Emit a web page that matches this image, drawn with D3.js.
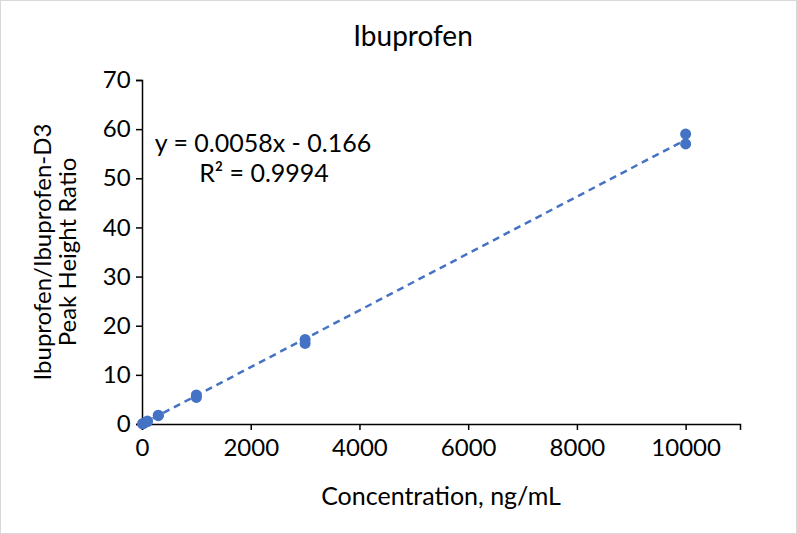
<!DOCTYPE html>
<html><head><meta charset="utf-8">
<script src="https://cdn.jsdelivr.net/npm/d3@7"></script>
<style>body{margin:0;background:#fff}text{font-family:Lato,"Liberation Sans",sans-serif}</style>
</head><body><svg id="c" width="797" height="534"></svg>
<script>
const xConc = [10, 30, 100, 100, 300, 300, 1000, 1000, 3000, 3000, 10000, 10000];
const yRatio = [0.05, 0.15, 0.5, 0.6, 1.7, 1.8, 5.4, 5.9, 16.4, 17.2, 57.0, 59.0];
const xTicks = [0, 2000, 4000, 6000, 8000, 10000];
const yTicks = [0, 10, 20, 30, 40, 50, 60, 70];
const slope = 0.0058, intercept = -0.166;

const svg = d3.select("#c");
svg.append("rect").attr("x",0.5).attr("y",0.5).attr("width",796).attr("height",533).attr("fill","#fff").attr("stroke","#d9d9d9");
const x = d3.scaleLinear().domain([0,11000]).range([142,740]);
const y = d3.scaleLinear().domain([0,70]).range([424,80]);

svg.append("g").attr("transform","translate(0,424)")
  .call(d3.axisBottom(x).tickValues(xTicks).tickSize(6).tickFormat(d3.format("d")))
  .call(g=>{g.select(".domain").attr("stroke","#000").attr("stroke-width",1.5);
    g.selectAll("line").attr("stroke","#000").attr("stroke-width",1.5);
    g.selectAll("text").attr("font-size",24).attr("fill","#000").attr("dy","0.95em");});
svg.append("g").attr("transform","translate(142,0)")
  .call(d3.axisLeft(y).tickValues(yTicks).tickSize(6))
  .call(g=>{g.select(".domain").attr("stroke","#000").attr("stroke-width",1.5);
    g.selectAll("line").attr("stroke","#000").attr("stroke-width",1.5);
    g.selectAll("text").attr("font-size",24).attr("fill","#000").attr("dx","-0.1em");});

svg.append("line").attr("x1",x(0)).attr("y1",y(Math.max(0,intercept)))
  .attr("x2",x(10000)).attr("y2",y(slope*10000+intercept))
  .attr("stroke","#4472c4").attr("stroke-width",2.5).attr("stroke-dasharray","7,5");
svg.selectAll("circle.p").data(xConc).join("circle").attr("class","p")
  .attr("cx",d=>x(d)).attr("cy",(d,i)=>y(yRatio[i])).attr("r",5.5).attr("fill","#4472c4");

svg.append("text").attr("x",413).attr("y",46).attr("text-anchor","middle").attr("font-size",28).text("Ibuprofen");
svg.append("text").attr("x",441).attr("y",505).attr("text-anchor","middle").attr("font-size",25).text("Concentration, ng/mL");
const yl = svg.append("text").attr("transform","translate(51,252) rotate(-90)").attr("text-anchor","middle").attr("font-size",24);
yl.append("tspan").attr("x",0).attr("dy",0).text("Ibuprofen/Ibuprofen-D3");
yl.append("tspan").attr("x",0).attr("dy","1.05em").text("Peak Height Ratio");
svg.append("text").attr("x",263).attr("y",152).attr("text-anchor","middle").attr("font-size",25).text("y = 0.0058x - 0.166");
svg.append("text").attr("x",264).attr("y",182).attr("text-anchor","middle").attr("font-size",25).text("R² = 0.9994");
</script></body></html>
